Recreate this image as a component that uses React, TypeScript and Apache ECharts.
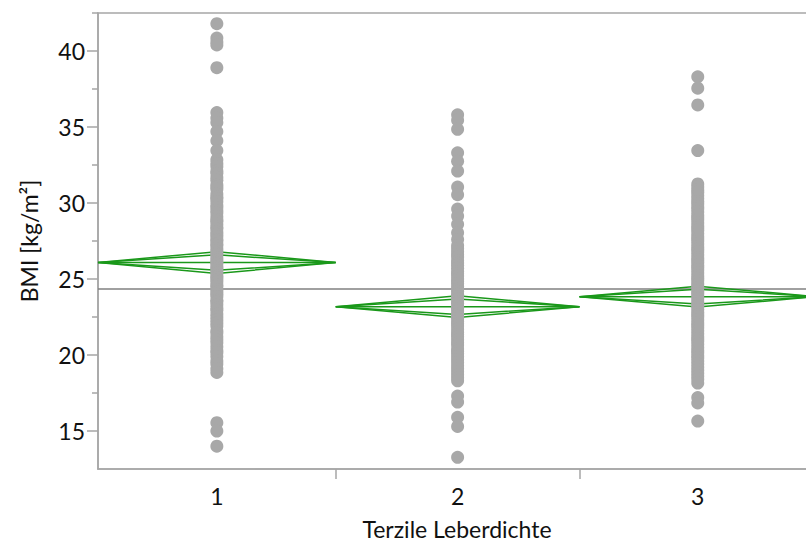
import React, { useEffect, useRef } from "react";
import * as echarts from "echarts";

// ---- data ----
const groups = ["1", "2", "3"];
const groupN = [195, 200, 194];
const groupMeans = [26.08, 23.18, 23.84];
const groupCIHalf = [0.72, 0.72, 0.69];
const grandMean = 24.34;

const bmiGroup1 = [
  41.8, 40.85, 40.6, 40.4, 38.9, 35.95, 35.6, 35.3, 34.7, 34.1, 33.45,
  32.85, 32.6, 32.4, 32.1, 31.95, 31.7, 31.5, 31.2, 31.05, 30.9, 30.6, 30.4, 30.3, 30.1,
  29.85, 29.7, 29.5, 29.35, 29.1, 28.9, 28.8, 28.6, 28.4, 28.3, 28.1, 27.95, 27.8, 27.6,
  27.5, 27.3, 27.2, 27.0, 26.85, 26.7, 26.6, 26.4, 26.25, 26.1, 26.0, 25.8, 25.7, 25.55,
  25.4, 25.2, 25.1, 24.95, 24.8, 24.6, 24.5, 24.3, 24.15, 24.0, 23.85, 23.6, 23.5, 23.3,
  23.1, 22.95, 22.7, 22.5, 22.3, 22.1, 21.9, 21.6, 21.45, 21.2, 21.0, 20.8, 20.55, 20.3,
  20.15, 19.9, 19.6, 19.4, 19.1, 18.85,
  15.55, 15.0, 14.0,
];
const bmiGroup2 = [
  35.8, 35.45, 34.85, 33.3, 32.75, 32.1, 31.05, 30.55, 29.6, 29.15, 28.6, 28.05, 27.6,
  27.2, 27.0, 26.8, 26.6, 26.45, 26.2, 26.05, 25.9, 25.7, 25.5, 25.35, 25.2, 25.0, 24.85,
  24.7, 24.5, 24.35, 24.2, 24.0, 23.85, 23.7, 23.5, 23.4, 23.2, 23.05, 22.9, 22.7, 22.55,
  22.4, 22.2, 22.05, 21.9, 21.7, 21.5, 21.35, 21.2, 21.0, 20.8, 20.65, 20.4, 20.25, 20.1,
  19.9, 19.7, 19.5, 19.3, 19.1, 18.9, 18.7, 18.5, 18.3,
  17.3, 16.9, 15.9, 15.3, 13.27,
];
const bmiGroup3 = [
  38.3, 37.55, 36.45, 33.45,
  31.25, 31.05, 30.85, 30.7, 30.5, 30.3, 30.1, 29.95, 29.75, 29.6, 29.4, 29.2, 29.05,
  28.9, 28.7, 28.5, 28.35, 28.2, 28.0, 27.8, 27.65, 27.5, 27.3, 27.1, 26.95, 26.8, 26.6,
  26.4, 26.25, 26.1, 25.9, 25.75, 25.6, 25.4, 25.2, 25.05, 24.9, 24.7, 24.55, 24.4, 24.2,
  24.05, 23.9, 23.7, 23.5, 23.35, 23.2, 23.0, 22.8, 22.65, 22.5, 22.3, 22.1, 21.95, 21.8,
  21.6, 21.4, 21.2, 21.05, 20.9, 20.7, 20.5, 20.3, 20.15, 19.95, 19.8, 19.6, 19.4, 19.2,
  19.0, 18.8, 18.6, 18.4, 18.15,
  17.2, 16.85, 15.65,
];
const bmiGroups = [bmiGroup1, bmiGroup2, bmiGroup3];

const yMajorTicks = [15, 20, 25, 30, 35, 40];
const yMinorTicks = [17.5, 22.5, 27.5, 32.5, 37.5, 42.5];
const yMin = 12.5;
const yMax = 42.5;

const xTitle = "Terzile Leberdichte";
const yTitle = "BMI [kg/m²]";

const GREEN = "#1a981a";
const POINT = "#a8a8a8";
const FRAME = "#a6a6a6";
const FONT = "Lato";
const TEXT = "#111111";

export default function App() {
  const ref = useRef<HTMLDivElement>(null);

  useEffect(() => {
    if (!ref.current) return;
    const chart = echarts.init(ref.current, undefined, { renderer: "svg" });

    const starts: number[] = [];
    let acc = 0;
    groupN.forEach((n) => {
      starts.push(acc);
      acc += n;
    });
    const total = acc;
    const ends = starts.map((s, i) => s + groupN[i]);
    const centers = starts.map((s, i) => s + groupN[i] / 2);
    const boundaries = ends.slice(0, ends.length - 1);

    const points: number[][] = [];
    bmiGroups.forEach((vals, i) => {
      vals.forEach((v) => points.push([centers[i], v]));
    });

    const diamonds = groups.map((_, i) => [starts[i], ends[i], groupMeans[i], groupCIHalf[i]]);

    const option: any = {
      animation: false,
      grid: {
        left: 98,
        right: -10,
        top: 13,
        bottom: 74,
        outerBoundsMode: "none",
        containLabel: false,
        show: true,
        borderColor: FRAME,
        borderWidth: 1.5,
        backgroundColor: "transparent",
      },
      xAxis: {
        type: "value",
        min: 0,
        max: total,
        name: xTitle,
        nameLocation: "middle",
        nameGap: 48,
        nameTextStyle: { fontFamily: FONT, fontSize: 23, color: TEXT },
        axisLine: { show: true, lineStyle: { color: FRAME, width: 1.5 } },
        axisTick: {
          show: true,
          customValues: boundaries,
          length: 10,
          lineStyle: { color: FRAME, width: 1.5 },
        },
        axisLabel: {
          customValues: centers,
          margin: 15,
          fontFamily: FONT,
          fontSize: 23,
          color: TEXT,
          formatter: (v: number) => {
            const i = centers.findIndex((c) => Math.abs(c - v) < 0.01);
            return i >= 0 ? groups[i] : "";
          },
        },
        splitLine: { show: false },
      },
      yAxis: [
        {
          type: "value",
          min: yMin,
          max: yMax,
          position: "left",
          name: yTitle,
          nameLocation: "middle",
          nameGap: 58,
          nameRotate: 90,
          nameTextStyle: { fontFamily: FONT, fontSize: 23, color: TEXT },
          axisLine: { show: true, lineStyle: { color: FRAME, width: 1.5 } },
          axisTick: {
            show: true,
            customValues: yMajorTicks,
            length: 11,
            lineStyle: { color: FRAME, width: 1.5 },
          },
          axisLabel: {
            customValues: yMajorTicks,
            margin: 13,
            fontFamily: FONT,
            fontSize: 23,
            color: TEXT,
          },
          splitLine: { show: false },
        },
        {
          type: "value",
          min: yMin,
          max: yMax,
          position: "left",
          axisLine: { show: false },
          axisTick: {
            show: true,
            customValues: yMinorTicks,
            length: 6,
            lineStyle: { color: FRAME, width: 1.5 },
          },
          axisLabel: { show: false },
          splitLine: { show: false },
        },
      ],
      series: [
        {
          type: "line",
          data: [
            [0, grandMean],
            [total, grandMean],
          ],
          symbol: "none",
          lineStyle: { color: "#808080", width: 1.5 },
          z: 1,
        },
        {
          type: "custom",
          data: diamonds,
          encode: { x: [0, 1], y: 2 },
          z: 2,
          renderItem: (_params: any, api: any) => {
            const s = api.value(0);
            const e = api.value(1);
            const m = api.value(2);
            const h = api.value(3);
            const c = (s + e) / 2;
            const k = Math.SQRT1_2;
            const L = api.coord([s, m]);
            const R = api.coord([e, m]);
            const T = api.coord([c, m + h]);
            const B = api.coord([c, m - h]);
            const Ti = api.coord([c, m + h * k]);
            const Bi = api.coord([c, m - h * k]);
            const style = { fill: "none", stroke: GREEN, lineWidth: 1.5 };
            return {
              type: "group",
              children: [
                { type: "polygon", shape: { points: [L, T, R, B] }, style },
                { type: "polygon", shape: { points: [L, Ti, R, Bi] }, style },
                {
                  type: "line",
                  shape: { x1: L[0], y1: L[1], x2: R[0], y2: R[1] },
                  style,
                },
              ],
            };
          },
        },
        {
          type: "scatter",
          data: points,
          symbol: "circle",
          symbolSize: 13,
          itemStyle: { color: POINT, opacity: 1 },
          z: 3,
        },
      ],
    };

    chart.setOption(option);
    return () => chart.dispose();
  }, []);

  return (
    <div
      ref={ref}
      style={{ position: "absolute", left: 0, top: 0, width: 806, height: 543, background: "#fff" }}
    />
  );
}
